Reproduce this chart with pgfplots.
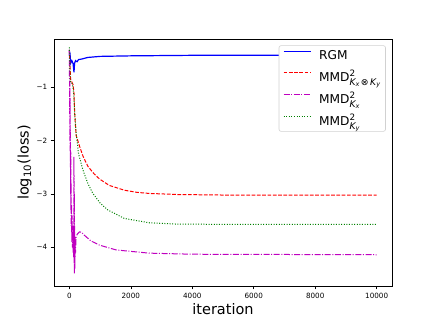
\documentclass[border=0pt]{standalone}
\usepackage{fontspec}
\setmainfont{DejaVu Sans}
\usepackage{pgfplots}
\pgfplotsset{compat=1.18}
\definecolor{mplb}{rgb}{0,0,1}
\definecolor{mplr}{rgb}{1,0,0}
\definecolor{mplm}{rgb}{0.75,0,0.75}
\definecolor{mplg}{rgb}{0,0.5,0}
\newcommand{\sub}[1]{\mbox{\fontsize{9.2}{10}\selectfont\itshape #1}}
\newcommand{\ssub}[1]{\raisebox{-1.3pt}{\fontsize{6.5}{7}\selectfont\itshape #1}}
\newcommand{\sq}{\mbox{\fontsize{8.8}{9}\selectfont 2}}
\begin{document}
\begin{tikzpicture}
\useasboundingbox (0,0) rectangle (436pt,327pt);
\begin{axis}[
  at={(54pt,41pt)}, anchor=south west,
  scale only axis, width=338pt, height=247pt,
  xmin=-500, xmax=10500, ymin=-4.726, ymax=-0.094,
  xtick={0,2000,4000,6000,8000,10000},
  xticklabels={0,2000,4000,6000,8000,10000},
  ytick={-4,-3,-2,-1},
  yticklabels={−4,−3,−2,−1},
  scaled ticks=false,
  tick align=outside, tick pos=left,
  major tick length=3.3pt,
  tick style={black, line width=0.6pt},
  axis line style={line width=0.6pt},
  ticklabel style={font=\fontsize{7.2}{8}\selectfont},
  xlabel={iteration}, ylabel={log\textsubscript{10}(loss)},
  label style={font=\fontsize{14.5}{16}\selectfont},
  xlabel style={yshift=2pt},
  ylabel style={yshift=-2pt},
  legend cell align=left,
  legend image code/.code={\draw[mark repeat=2,mark phase=2,#1] plot coordinates {(0pt,3.8pt) (13.5pt,3.8pt) (27pt,3.8pt)};},
  legend style={name=leg, at={(1,1)}, anchor=north east, xshift=-6.5pt, yshift=-6.7pt,
    nodes={font=\fontsize{12.2}{14}\selectfont, inner sep=1pt},
    draw=none, fill=white,
    inner xsep=3.7pt, inner ysep=3.5pt, row sep=7.5pt,
    /tikz/every odd column/.append style={column sep=7pt}},
]
\addplot[mplb, line width=1.2pt, legend image post style={draw=mplb}] coordinates {
(0,-0.30) (10,-0.45) (20,-0.35) (40,-0.55) (80,-0.50) (120,-0.55) (150,-0.72)
(170,-0.55) (200,-0.50) (250,-0.52) (300,-0.48) (400,-0.47) (600,-0.44)
(1000,-0.42) (2000,-0.41) (4000,-0.40) (10000,-0.40)};
\addlegendentry{RGM}
\addplot[mplr, line width=1pt, dash pattern=on 3.7pt off 1.6pt, legend image post style={draw=mplr}] coordinates {
(0,-0.30) (20,-0.6) (40,-0.85) (80,-0.9) (120,-0.95) (150,-1.1) (172,-1.48)
(220,-1.9) (334,-2.11) (450,-2.3) (600,-2.48) (800,-2.62) (982,-2.72)
(1300,-2.84) (1793,-2.93) (2200,-2.97) (2600,-2.99) (3500,-3.01) (5000,-3.02) (10000,-3.02)};
\addlegendentry{MMD$^{\sq}_{\sub{K\ssub{x}\,⊗\,K\ssub{y}}}$}
\addplot[mplm, line width=1pt, dash pattern=on 6pt off 1.6pt on 1pt off 1.6pt, legend image post style={draw=mplm}] coordinates {
(0,-0.3) (5,-0.9) (10,-1.5) (15,-0.9) (20,-2.0) (25,-1.2) (30,-2.5) (35,-1.8)
(40,-3.0) (45,-2.2) (50,-3.3) (55,-2.8) (60,-3.6) (70,-3.2) (80,-3.9) (90,-3.4)
(100,-4.0) (110,-3.6) (120,-4.1) (130,-3.8) (140,-4.2) (150,-2.3) (155,-4.3)
(160,-3.0) (165,-4.5) (170,-3.6) (180,-4.4) (190,-3.8) (200,-4.1) (220,-3.8)
(260,-3.75) (334,-3.71) (400,-3.72) (500,-3.78) (700,-3.88) (982,-3.96)
(1523,-4.05) (2600,-4.11) (4000,-4.13) (10000,-4.14)};
\addlegendentry{MMD$^{\sq}_{\sub{K\ssub{x}}}$}
\addplot[mplg, line width=1pt, dash pattern=on 1pt off 1.6pt, legend image post style={draw=mplg}] coordinates {
(0,-0.25) (30,-0.9) (80,-0.92) (120,-1.0) (150,-1.2) (172,-1.48) (220,-1.85)
(300,-2.25) (441,-2.55) (600,-2.8) (766,-2.99) (1000,-3.17) (1252,-3.3)
(1793,-3.46) (2600,-3.54) (3500,-3.565) (5000,-3.57) (10000,-3.57)};
\addlegendentry{MMD$^{\sq}_{\sub{K\ssub{y}}}$}
\end{axis}
\draw[black!18, line width=0.6pt, rounded corners=2pt] (leg.south west) rectangle (leg.north east);
\end{tikzpicture}
\end{document}
